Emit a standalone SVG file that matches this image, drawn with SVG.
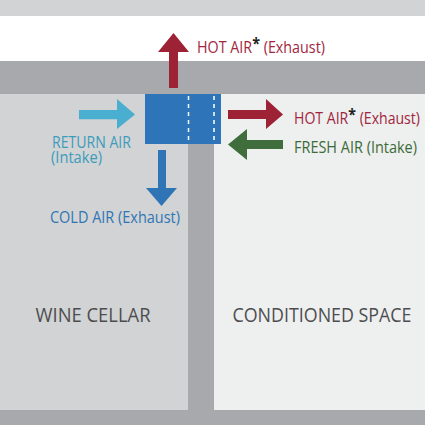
<svg xmlns="http://www.w3.org/2000/svg" width="425" height="425" viewBox="0 0 425 425">
<style>
.lbl{font-family:"Open Sans","Liberation Sans",sans-serif;font-size:15.5px}
.big{font-family:"Open Sans","Liberation Sans",sans-serif;font-size:19.5px;fill:#4d4d4f}
.red{fill:#a1263d}
.ast{fill:#231f20;font-weight:bold}
</style>
<g id="background">
<rect x="0" y="0" width="425" height="425" fill="#ffffff"/>
<rect x="0" y="0" width="425" height="16" fill="#d1d3d4"/>
<rect x="0" y="61" width="425" height="33" fill="#a7a9ac"/>
<rect x="0" y="94" width="188" height="316" fill="#d1d3d4"/>
<rect x="188" y="94" width="26" height="316" fill="#a7a9ac"/>
<rect x="214" y="94" width="211" height="316" fill="#eeefef"/>
<rect x="0" y="410" width="425" height="15" fill="#a7a9ac"/>
</g>
<g id="wine-cellar"><text class="big" x="93" y="322" text-anchor="middle" textLength="115" lengthAdjust="spacingAndGlyphs">WINE CELLAR</text></g>
<g id="conditioned-space"><text class="big" x="322" y="322" text-anchor="middle" textLength="179" lengthAdjust="spacingAndGlyphs">CONDITIONED SPACE</text></g>
<g id="unit">
<rect x="145" y="94" width="76" height="50" fill="#2e74b8"/>
<line x1="188.5" y1="96" x2="188.5" y2="142" stroke="#ffffff" stroke-width="1.5" stroke-dasharray="4 4"/>
<line x1="214" y1="96" x2="214" y2="142" stroke="#ffffff" stroke-width="1.5" stroke-dasharray="4 4"/>
</g>
<g id="connectors">
<path id="hot-up" d="M169,88 V52 H158 L173.5,33 L189,52 H178 V88 Z" fill="#9d2235"/>
<path id="hot-right" d="M228,110 H266 V99 L283,114.5 L266,129 V119 H228 Z" fill="#9d2235"/>
<path id="return" d="M79,110 H117 V99 L135,114.5 L117,129 V119.3 H79 Z" fill="#4aaed1"/>
<path id="fresh" d="M283,140 H247 V129 L228,144.5 L247,160 V149 H283 Z" fill="#3f6d3b"/>
<path id="cold" d="M158,150 H166 V188 H177 L161.5,206 L146,188 H158 Z" fill="#2f75b5"/>
</g>
<g id="label-hot-top"><text class="lbl red" x="197" y="53" textLength="128" lengthAdjust="spacingAndGlyphs">HOT AIR<tspan class="ast" dy="-4">*</tspan><tspan dy="4"> (Exhaust)</tspan></text></g>
<g id="label-hot-right"><text class="lbl red" x="294" y="124" textLength="126" lengthAdjust="spacingAndGlyphs">HOT AIR<tspan class="ast" dy="-4">*</tspan><tspan dy="4"> (Exhaust)</tspan></text></g>
<g id="label-fresh"><text class="lbl" x="294" y="153" fill="#3b6b39" textLength="123" lengthAdjust="spacingAndGlyphs">FRESH AIR (Intake)</text></g>
<g id="label-return"><text class="lbl" x="52" y="148" fill="#3d9cbc" textLength="79" lengthAdjust="spacingAndGlyphs">RETURN AIR</text><text class="lbl" x="51" y="163" fill="#3d9cbc" textLength="51" lengthAdjust="spacingAndGlyphs">(Intake)</text></g>
<g id="label-cold"><text class="lbl" x="50" y="223" fill="#2f75b5" textLength="130" lengthAdjust="spacingAndGlyphs">COLD AIR (Exhaust)</text></g>
</svg>
